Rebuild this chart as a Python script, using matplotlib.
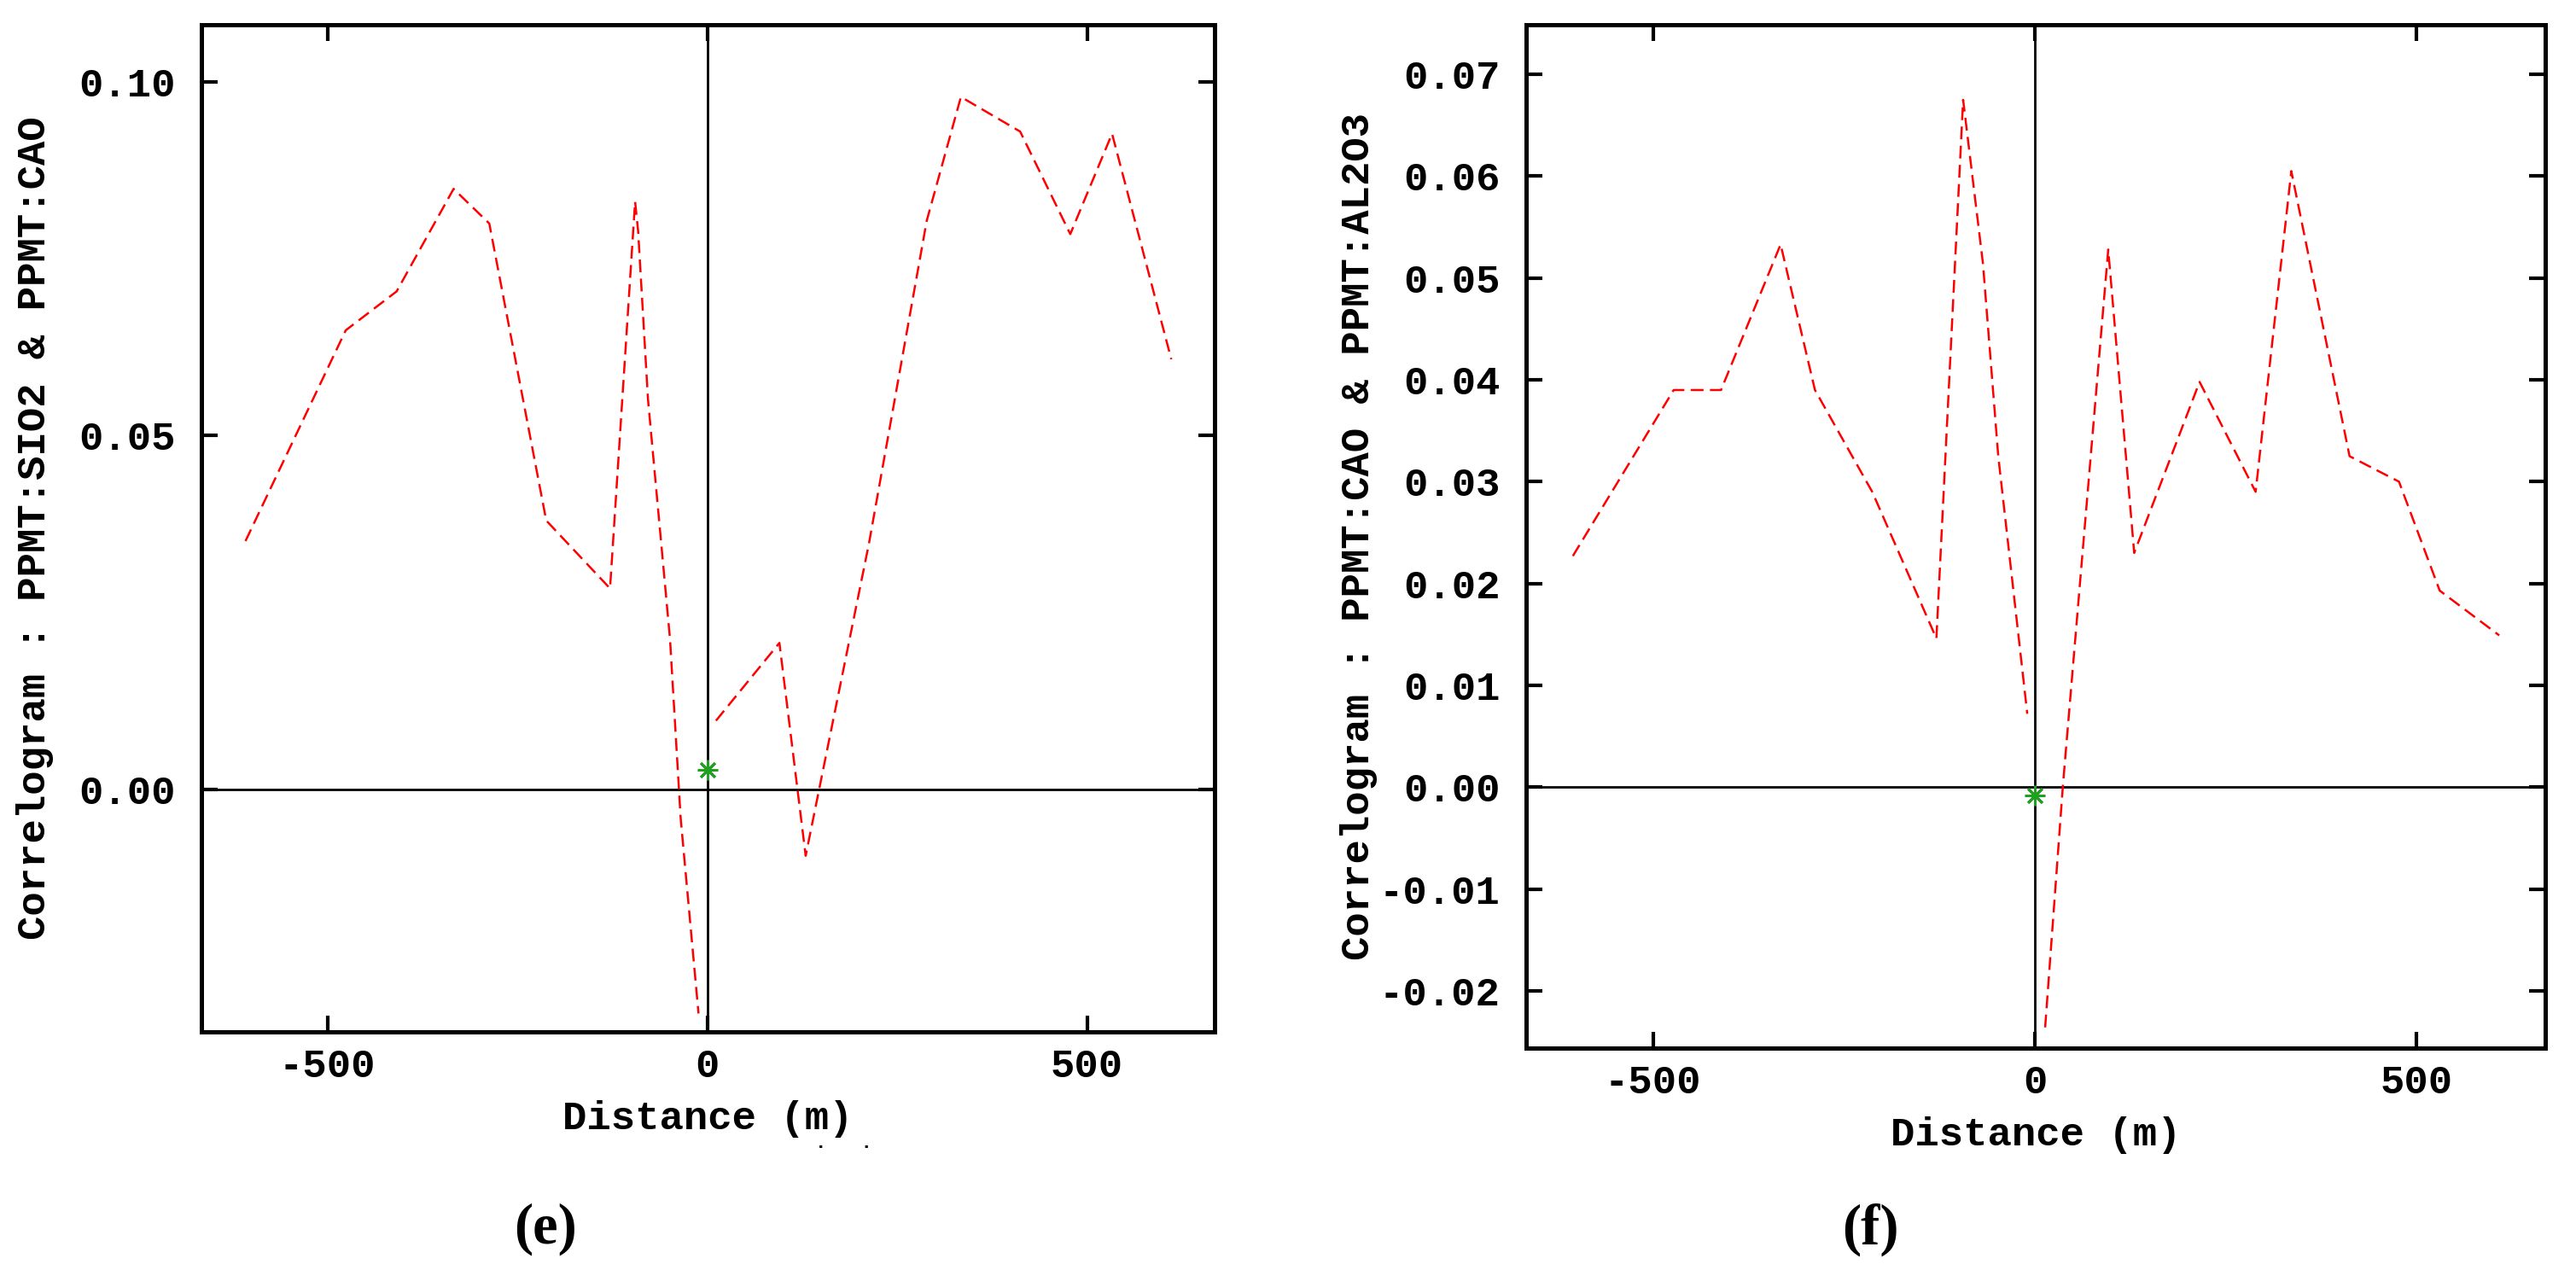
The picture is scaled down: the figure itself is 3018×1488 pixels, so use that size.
import numpy as np
import matplotlib
matplotlib.use('Agg')
import matplotlib.pyplot as plt
from matplotlib.ticker import FormatStrFormatter

plt.rcParams['font.family'] = ['Liberation Mono', 'DejaVu Sans Mono']
plt.rcParams['axes.unicode_minus'] = False

# panel (e): PPMT:SIO2 & PPMT:CAO  (lag 0 is left out of the red line)
dist_e = [-608, -476, -409, -334, -287, -212, -128, -95, -91, -78, -49, -35, -11.5, 0,
          11.5, 95, 129.6, 213, 289, 334, 412, 478, 533, 611]
corr_e = [0.0351, 0.0649, 0.0704, 0.0849, 0.0800, 0.0380, 0.0284, 0.0831, 0.0789, 0.0551,
          0.0212, -0.0041, -0.0317, None,
          0.0097, 0.0207, -0.0094, 0.0348, 0.0804, 0.0979, 0.0930, 0.0785, 0.0927, 0.0608]
star_e = 0.0027

# panel (f): PPMT:CAO & PPMT:AL2O3
dist_f = [-605, -473, -411, -333, -288, -213, -129, -94, -68, -48, -10, 0,
          13.4, 36.7, 62, 96, 130, 215.6, 289, 335.7, 412, 476.7, 530, 608]
corr_f = [0.0227, 0.0390, 0.0390, 0.0533, 0.0390, 0.0290, 0.0146, 0.0675, 0.0514, 0.0325,
          0.0072, None,
          -0.0236, 0.0002, 0.0227, 0.0528, 0.0230, 0.0398, 0.0290, 0.0605, 0.0325, 0.0300,
          0.0193, 0.0149]
star_f = -0.0008

xticks = [-500, 0, 500]
yticks_e = [0.00, 0.05, 0.10]
yticks_f = [-0.02, -0.01, 0.00, 0.01, 0.02, 0.03, 0.04, 0.05, 0.06, 0.07]

ylabel_e = 'Correlogram : PPMT:SIO2 & PPMT:CAO'
ylabel_f = 'Correlogram : PPMT:CAO & PPMT:AL2O3'

fig = plt.figure(figsize=(30.18, 14.88), dpi=100)
ax_e = fig.add_axes([0.0782, 0.1875, 0.3933, 0.7930])
ax_f = fig.add_axes([0.5925, 0.1750, 0.3955, 0.8057])


def draw(ax, dist, corr, star, yticks, ylim, ylabel):
    y = np.array([np.nan if v is None else v for v in corr], dtype=float)
    ax.axhline(0, color='black', lw=2, zorder=1)
    ax.axvline(0, color='black', lw=2, zorder=1)
    ax.plot(dist, y, color='red', lw=1.8, linestyle=(0, (6, 3)), zorder=2)
    ax.plot([0], [star], marker=(8, 2, 0), color='#1fa01f', ms=17, mew=2,
            linestyle='none', zorder=3)
    ax.set_xlim(-666, 668)
    ax.set_ylim(*ylim)
    ax.set_xticks(xticks)
    ax.set_yticks(yticks)
    ax.yaxis.set_major_formatter(FormatStrFormatter('%.2f'))
    ax.tick_params(direction='in', top=True, right=True, length=14, width=3,
                   labelsize=34)
    ax.tick_params(axis='x', pad=14)
    ax.tick_params(axis='y', pad=22)
    for lab in ax.get_xticklabels() + ax.get_yticklabels():
        lab.set_fontweight('bold')
    for sp in ax.spines.values():
        sp.set_linewidth(3.6)
    ax.set_xlabel('Distance (m)', fontsize=34, fontweight='bold')
    ax.set_ylabel(ylabel, fontsize=34, fontweight='bold')
    ax.yaxis.set_label_coords(-0.146, 0.5)


draw(ax_e, dist_e, corr_e, star_e, yticks_e, (-0.0343, 0.1081), ylabel_e)
draw(ax_f, dist_f, corr_f, star_f, yticks_f, (-0.0256, 0.0749), ylabel_f)
ax_e.xaxis.set_label_coords(0.5, -0.068)
ax_f.xaxis.set_label_coords(0.5, -0.067)

# stray dots under the left x label
fig.text(0.3275, 0.100, '.   .', fontsize=16, fontweight='bold', ha='center', va='center')

fig.text(0.2118, 0.032, '(e)', fontsize=48, fontweight='bold', ha='center', va='center',
         family=['Liberation Serif', 'DejaVu Serif'])
fig.text(0.7260, 0.032, '(f)', fontsize=48, fontweight='bold', ha='center', va='center',
         family=['Liberation Serif', 'DejaVu Serif'])

fig.savefig('out.png', dpi=100, facecolor='white')
